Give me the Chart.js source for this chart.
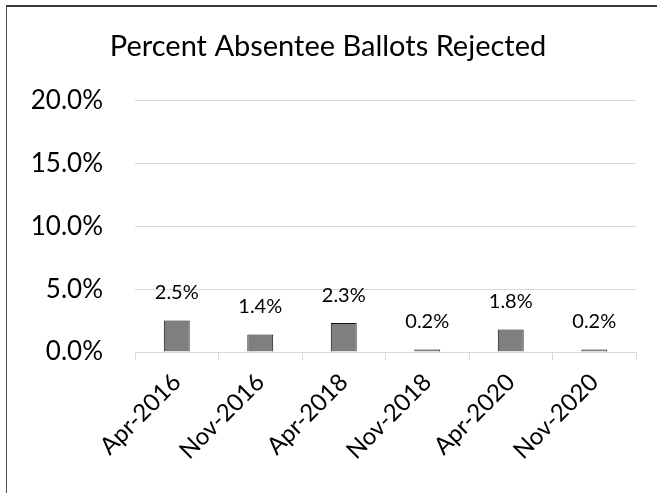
<!DOCTYPE html>
<html>
<head>
<meta charset="utf-8">
<script src="https://cdn.jsdelivr.net/npm/chart.js@4"></script>
<style>
  html, body { margin: 0; padding: 0; background: #fff; }
  #wrap { position: absolute; left: 0; top: 0; width: 657px; height: 493px; }
  #frame { position: absolute; left: 6px; top: 5px; width: 700px; height: 600px;
           border-top: 2px solid #3a3a3a; border-left: 1px solid #4a4a4a; pointer-events: none; }
</style>
</head>
<body>
<div id="wrap"><canvas id="c" width="657" height="493"></canvas></div>
<div id="frame"></div>
<script>
const categories = ["Apr-2016", "Nov-2016", "Apr-2018", "Nov-2018", "Apr-2020", "Nov-2020"];
const rejectedPct = [2.5, 1.4, 2.3, 0.2, 1.8, 0.2];
const yTickMin = 0, yTickMax = 20, yTickStep = 5;
const chartTitle = "Percent Absentee Ballots Rejected";

const FONT = "Lato, 'Open Sans', sans-serif";

const dataLabels = {
  id: 'dataLabels',
  afterDatasetsDraw(chart) {
    const ctx = chart.ctx;
    const meta = chart.getDatasetMeta(0);
    ctx.save();
    ctx.font = "20px " + FONT;
    ctx.fillStyle = "#000";
    ctx.textAlign = "center";
    ctx.textBaseline = "middle";
    meta.data.forEach((bar, i) => {
      const v = chart.data.datasets[0].data[i];
      ctx.fillText(v.toFixed(1) + "%", bar.x, bar.y - 28);
    });
    ctx.restore();
  }
};

new Chart(document.getElementById('c'), {
  type: 'bar',
  data: {
    labels: categories,
    datasets: [{
      data: rejectedPct,
      backgroundColor: '#7f7f7f',
      borderColor: '#111',
      borderWidth: 1,
      categoryPercentage: 1.0,
      barPercentage: 0.31
    }]
  },
  options: {
    responsive: false,
    animation: false,
    devicePixelRatio: 1,
    layout: { padding: { left: 20, right: 21, top: 0, bottom: 0 } },
    plugins: {
      legend: { display: false },
      tooltip: { enabled: false },
      title: {
        display: true,
        text: chartTitle,
        color: '#000',
        font: { family: FONT, size: 29, weight: 'normal', lineHeight: 1.2 },
        padding: { top: 29, bottom: 37 }
      }
    },
    scales: {
      x: {
        grid: { display: true, drawOnChartArea: false, drawTicks: true, tickLength: 8, color: '#d9d9d9', offset: true },
        border: { display: true, color: '#d9d9d9', width: 1 },
        ticks: {
          color: '#000',
          font: { family: FONT, size: 24 },
          minRotation: 45, maxRotation: 45,
          padding: 8,
          autoSkip: false
        },
        afterFit(scale) { scale.height = 141; }
      },
      y: {
        min: yTickMin, max: yTickMax,
        grid: { color: '#d9d9d9', drawTicks: false },
        border: { display: false },
        ticks: {
          stepSize: yTickStep,
          color: '#000',
          font: { family: FONT, size: 26 },
          padding: 32,
          callback: (v) => v.toFixed(1) + '%'
        },
        afterFit(scale) { scale.width = 115; }
      }
    }
  },
  plugins: [dataLabels]
});
</script>
</body>
</html>
